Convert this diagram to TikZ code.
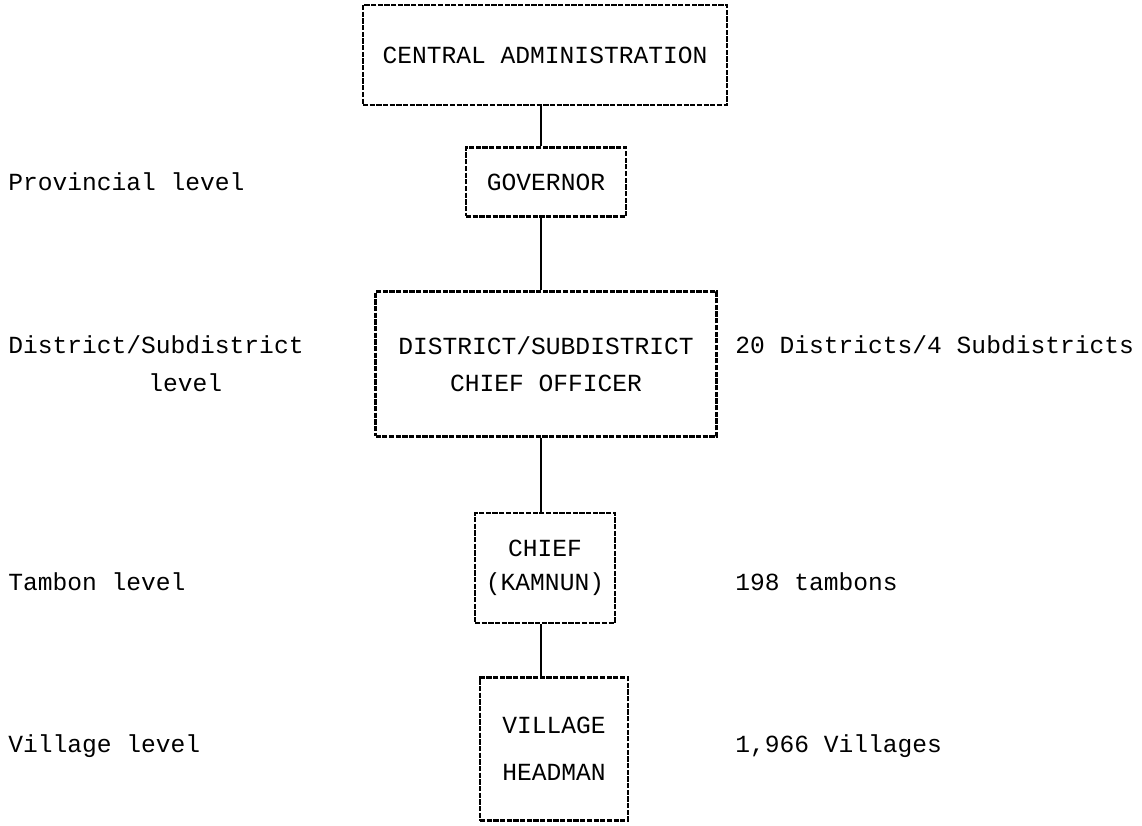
\documentclass[tikz,border=0pt]{standalone}
\usepackage{fontspec}
\setmainfont{Liberation Mono}
\usetikzlibrary{positioning}
\tikzset{
   lvlbox/.style={draw, line width=1.4pt, dash pattern=on 3pt off 0.8pt,
      align=center, inner sep=0pt, font=\fontsize{14}{21}\selectfont},
   lvllabel/.style={anchor=west, inner sep=0pt, font=\fontsize{14}{21}\selectfont},
   link/.style={line width=1.4pt}
}
\begin{document}
\begin{tikzpicture}[x=0.02cm, y=-0.02cm]
      \useasboundingbox (0,0) rectangle (1142,825);
      % Boxes
      \node[lvlbox, minimum width=7.28cm, minimum height=2cm] (central) at (545,55)
         {CENTRAL ADMINISTRATION};
      \node[lvlbox, minimum width=3.2cm, minimum height=1.38cm] (gov) at (546,182)
         {GOVERNOR};
      \node[lvlbox, minimum width=6.82cm, minimum height=2.9cm] (dist) at (546,364)
         {DISTRICT/SUBDISTRICT\\CHIEF OFFICER};
      \node[lvlbox, minimum width=2.8cm, minimum height=2.2cm] (chief) at (545,568)
         {CHIEF\\[-1.5pt](KAMNUN)};
      \node[lvlbox, minimum width=2.96cm, minimum height=2.86cm] (village) at (554,749)
         {VILLAGE\\[6pt]HEADMAN};
      % Connectors
      \coordinate (spine) at (541,0);
      \draw[link] (central.south -| spine) -- (gov.north -| spine);
      \draw[link] (gov.south -| spine) -- (dist.north -| spine);
      \draw[link] (dist.south -| spine) -- (chief.north -| spine);
      \draw[link] (chief.south -| spine) -- (village.north -| spine);
      % Levels (left)
      \node[lvllabel] (provlbl) at (8,182) {Provincial level};
      \node[lvllabel] (distlbl) at (8,345) {District/Subdistrict};
      \node[lvllabel] (distlbltwo) at (148,383) {level};
      \node[lvllabel] (tamlbl) at (8,582) {Tambon level};
      \node[lvllabel] (villlbl) at (8,746) {Village level};
      % Counts (right)
      \node[lvllabel] (distcount) at (735,345) {20 Districts/4 Subdistricts};
      \node[lvllabel] (tamcount) at (735,582) {198 tambons};
      \node[lvllabel] (villcount) at (735,746) {1,966 Villages};
   \end{tikzpicture}
\end{document}
